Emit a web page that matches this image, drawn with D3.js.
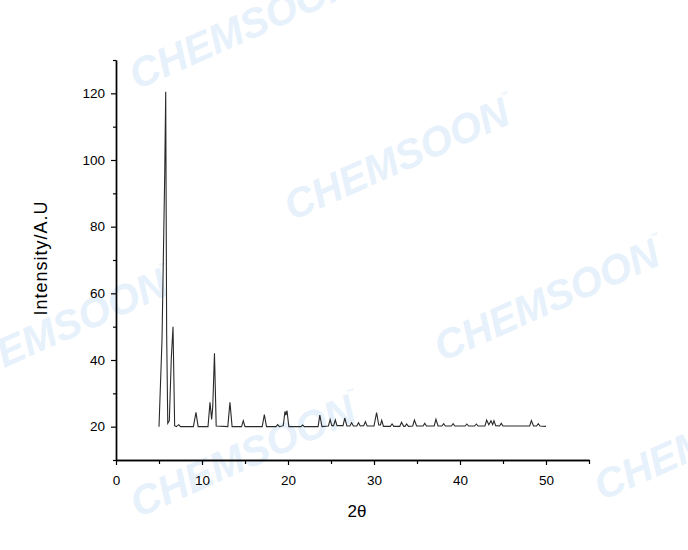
<!DOCTYPE html>
<html>
<head>
<meta charset="utf-8">
<script src="https://cdn.jsdelivr.net/npm/d3@7"></script>
<style>
  body { margin: 0; background: #fff; }
  svg { display: block; }
  text { font-family: "Liberation Sans", Arial, sans-serif; }
</style>
</head>
<body>
<div class="container"></div>
<script>
// diffraction pattern (2theta, intensity)
const twoTheta = [5.0, 5.35, 5.66, 5.78, 5.89, 6.02, 6.2, 6.43, 6.63, 6.82, 7.0, 7.3, 7.5,
  9.0, 9.3, 9.55, 10.7, 10.93, 11.12, 11.25, 11.45, 11.65, 13.0, 13.25, 13.5,
  14.6, 14.8, 15.0, 17.0, 17.25, 17.5, 18.6, 18.8, 19.0, 19.45, 19.65, 19.75, 19.88, 20.1,
  21.5, 21.7, 21.9, 23.5, 23.7, 23.95, 24.7, 24.9, 25.1, 25.3, 25.5, 25.7,
  26.4, 26.6, 26.85, 27.2, 27.4, 27.6, 28.0, 28.2, 28.4, 28.8, 29.0, 29.2,
  30.0, 30.3, 30.55, 30.75, 30.9, 31.1, 31.9, 32.1, 32.3, 33.0, 33.2, 33.45,
  33.6, 33.8, 34.0, 34.5, 34.7, 34.95, 35.7, 35.9, 36.1, 37.0, 37.2, 37.45,
  37.9, 38.1, 38.3, 39.0, 39.2, 39.4, 40.6, 40.8, 41.0, 41.7, 41.9, 42.1,
  42.9, 43.1, 43.35, 43.6, 43.8, 43.95, 44.15, 44.6, 44.8, 45.0,
  48.1, 48.3, 48.55, 48.9, 49.1, 49.3, 50.0];
const intensity = [20, 46, 95, 120.5, 48, 21, 21.8, 40.5, 50, 20.3, 20, 20.6, 20,
  20, 24.3, 20, 20, 27.3, 22.2, 26, 42, 20.2, 20, 27.3, 20,
  20, 21.8, 20, 20, 23.6, 20, 20, 20.6, 20, 20.3, 24.6, 23.5, 24.8, 20,
  20, 20.5, 20, 20, 23.5, 20, 20.2, 22.1, 20.3, 20.3, 22, 20.3,
  20.3, 22.6, 20.2, 20.2, 21.2, 20.2, 20.2, 21.2, 20.2, 20.3, 21.5, 20.2,
  20.2, 24.2, 20.5, 20.5, 21.9, 20.1, 20.1, 20.8, 20.1, 20.1, 21.3, 20.1,
  20.1, 20.8, 20.1, 20.2, 22, 20.2, 20.2, 21, 20.2, 20.2, 22.2, 20.2,
  20.2, 20.9, 20.2, 20.2, 20.9, 20.2, 20.2, 20.8, 20.2, 20.2, 20.8, 20.2,
  20.2, 22, 20.6, 21.8, 20.6, 21.8, 20.3, 20.2, 21, 20.2,
  20.2, 21.8, 20.2, 20.2, 20.9, 20.2, 20.1];

const xMajor = [0, 10, 20, 30, 40, 50];
const xMinor = [5, 15, 25, 35, 45, 55];
const yMajor = [20, 40, 60, 80, 100, 120];
const yMinor = [10, 30, 50, 70, 90, 110, 130];

const w = 688, h = 550;
const plot = {left: 116, right: 589, top: 60, bottom: 460};

const svg = d3.select(".container").append("svg")
  .attr("width", w).attr("height", h);

// watermark
const marks = [[137, 90], [292, 221], [442, 362], [-50, 392], [138, 518], [602, 501]];
const wm = svg.append("g").attr("fill", "#e6f1fb");
marks.forEach(m => {
  const t = wm.append("text")
    .attr("transform", "translate(" + m[0] + "," + m[1] + ") rotate(-24)")
    .attr("font-size", 41).attr("font-weight", "bold").attr("font-style", "italic")
    .text("CHEMSOON");
  t.append("tspan").attr("font-size", 8).attr("dy", -26).text("\u2122");
});

const xScale = d3.scaleLinear().domain([0, 55]).range([plot.left, plot.right]);
const yScale = d3.scaleLinear().domain([10, 130]).range([plot.bottom, plot.top]);

const xAxis = d3.axisBottom(xScale).tickValues(xMajor).tickSize(5).tickPadding(10).tickSizeOuter(0);
const xAxisMinor = d3.axisBottom(xScale).tickValues(xMinor).tickSize(4).tickFormat("").tickSizeOuter(0);
const yAxis = d3.axisLeft(yScale).tickValues(yMajor).tickSize(5).tickPadding(6).tickSizeOuter(0);
const yAxisMinor = d3.axisLeft(yScale).tickValues(yMinor).tickSize(3).tickFormat("").tickSizeOuter(0);

const gx = svg.append("g").attr("transform", "translate(0," + plot.bottom + ")");
gx.call(xAxis);
gx.append("g").call(xAxisMinor);
const gy = svg.append("g").attr("transform", "translate(" + plot.left + ",0)");
gy.call(yAxis);
gy.append("g").call(yAxisMinor);

svg.selectAll(".domain").attr("stroke", "#000").attr("stroke-width", 1.4);
svg.selectAll(".tick line").attr("stroke", "#000").attr("stroke-width", 1.2);
svg.selectAll(".tick text").attr("font-size", 13.5).attr("fill", "#000")
  .attr("font-family", "'Liberation Sans', Arial, sans-serif");

// pattern
const pts = twoTheta.map((d, i) => [d, intensity[i]]);
const line = d3.line().x(d => xScale(d[0])).y(d => yScale(d[1]));
svg.append("path")
  .datum(pts)
  .attr("d", line)
  .attr("fill", "none")
  .attr("stroke", "#2a2a2a")
  .attr("stroke-width", 1.1)
  .attr("stroke-linejoin", "miter");

// axis titles
svg.append("text")
  .attr("x", 357).attr("y", 517)
  .attr("text-anchor", "middle").attr("font-size", 17)
  .text("2\u03b8");
svg.append("text")
  .attr("transform", "translate(47,258) rotate(-90)")
  .attr("text-anchor", "middle").attr("font-size", 18)
  .attr("letter-spacing", 1)
  .text("Intensity/A.U");
</script>
</body>
</html>
